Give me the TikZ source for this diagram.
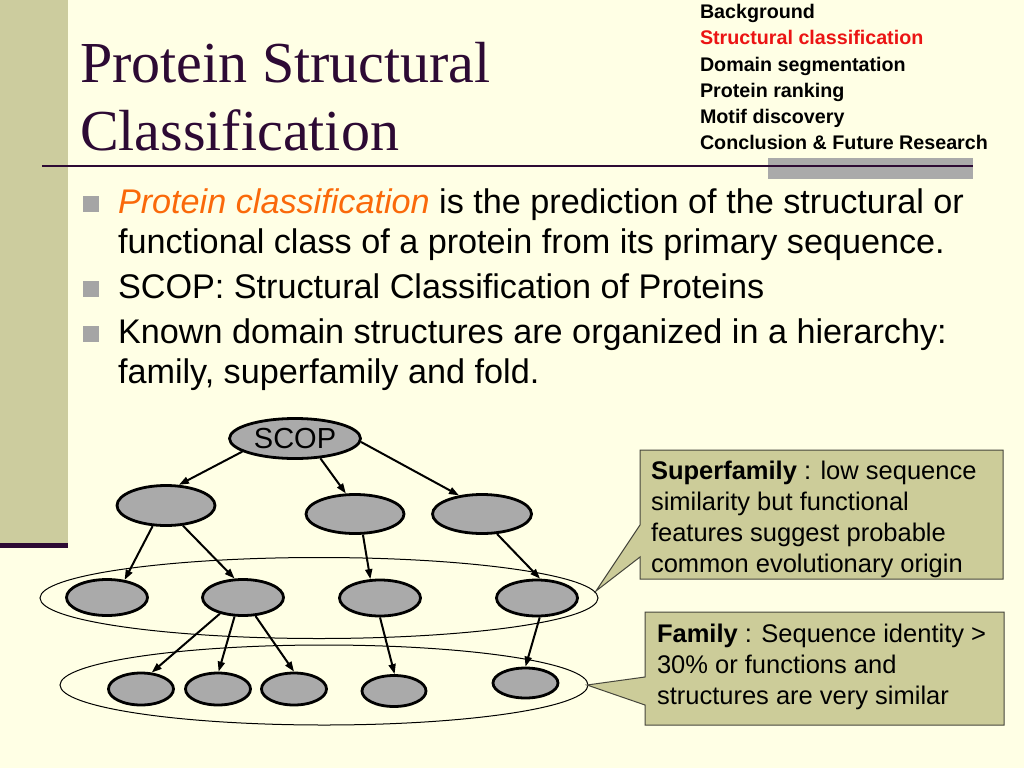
\documentclass[tikz,border=0pt]{standalone}
\usepackage{fontspec}
\setmainfont{Liberation Sans}
\newfontfamily\titlefont{Liberation Serif}
\usetikzlibrary{arrows.meta,shapes.geometric}
\definecolor{bgc}{RGB}{255,255,229}
\definecolor{barc}{RGB}{204,204,158}
\definecolor{calc}{RGB}{204,204,153}
\definecolor{calb}{RGB}{70,70,60}
\definecolor{titc}{RGB}{45,10,52}
\definecolor{orc}{RGB}{250,105,10}
\definecolor{redc}{RGB}{235,20,20}
\definecolor{bulc}{RGB}{165,165,165}
\definecolor{ndc}{RGB}{170,170,170}
\tikzset{
  txt/.style={anchor=base west,inner sep=0pt,outer sep=0pt},
  titletxt/.style={txt,text=titc,font=\titlefont\fontsize{58}{68}\selectfont},
  menutxt/.style={txt,font=\bfseries\fontsize{19.7}{24}\selectfont},
  bodytxt/.style={txt,font=\fontsize{34.2}{40}\selectfont},
  caltxt/.style={txt,font=\fontsize{25.5}{31}\selectfont},
  bul/.style={fill=bulc,inner sep=0pt,minimum size=16pt},
  nd/.style={ellipse,draw=black,line width=2.8pt,fill=ndc,inner sep=0pt},
  grp/.style={ellipse,draw=black,line width=1pt,inner sep=0pt},
  arr/.style={line width=2pt,-{Triangle[length=10pt,width=7pt]}},
  callout/.style={fill=calc,draw=calb,line width=1pt},
}
\begin{document}
\begin{tikzpicture}[x=1pt,y=-1pt]
\useasboundingbox (0,0) rectangle (1024,768);
\fill[bgc] (0,0) rectangle (1024,768);
% left bar
\fill[barc] (0,0) rectangle (68,543);
\fill[titc] (0,543) rectangle (68,548);
% title
\node[titletxt] (t1) at (80,82) {Protein Structural};
\node[titletxt] (t2) at (80,150) {Classification};
\fill[ndc] (768,158) rectangle (973,179);
\draw[titc,line width=2.3pt] (42,166) -- (973,166);
% menu
\node[menutxt] (m1) at (700,19) {Background};
\node[menutxt,text=redc] (m2) at (700,45) {Structural classification};
\node[menutxt] (m3) at (700,71) {Domain segmentation};
\node[menutxt] (m4) at (700,97) {Protein ranking};
\node[menutxt] (m5) at (700,123) {Motif discovery};
\node[menutxt] (m6) at (700,149) {Conclusion \& Future Research};
% bullets
\node[bul] (b1) at (90.5,203.5) {};
\node[bul] (b2) at (90.5,288.5) {};
\node[bul] (b3) at (90.5,333.5) {};
\node[bodytxt] (l1) at (118,213) {\textcolor{orc}{\itshape Protein classification} is the prediction of the structural or};
\node[bodytxt] (l2) at (118,253) {functional class of a protein from its primary sequence.};
\node[bodytxt] (l3) at (118,298) {SCOP: Structural Classification of Proteins};
\node[bodytxt] (l4) at (118,343) {Known domain structures are organized in a hierarchy:};
\node[bodytxt] (l5) at (118,383) {family, superfamily and fold.};
% group ellipses
\node[grp,minimum width=558pt,minimum height=81pt] (g1) at (319,598) {};
\node[grp,minimum width=528pt,minimum height=80pt] (g2) at (324,685) {};
% tree nodes
\node[nd,minimum width=131pt,minimum height=40pt,font=\fontsize{29}{32}\selectfont] (scop) at (295,438.5) {SCOP};
\node[nd,minimum width=98pt,minimum height=40pt] (a) at (166,505.5) {};
\node[nd,minimum width=98pt,minimum height=39pt] (b) at (355,514) {};
\node[nd,minimum width=99pt,minimum height=39pt] (c) at (482,514) {};
\node[nd,minimum width=81pt,minimum height=36pt] (d) at (107,597.5) {};
\node[nd,minimum width=81pt,minimum height=36pt] (e) at (243,597.5) {};
\node[nd,minimum width=81pt,minimum height=36pt] (f) at (380,598) {};
\node[nd,minimum width=81pt,minimum height=36pt] (g) at (537,598) {};
\node[nd,minimum width=65pt,minimum height=32pt] (h) at (141,689) {};
\node[nd,minimum width=65pt,minimum height=32pt] (i) at (218,689) {};
\node[nd,minimum width=65pt,minimum height=32pt] (j) at (294,689) {};
\node[nd,minimum width=64pt,minimum height=31pt] (k) at (394,691) {};
\node[nd,minimum width=65pt,minimum height=30pt] (l) at (525.5,683) {};
% arrows
\draw[arr] (scop.194) -- (a.58);
\draw[arr] (scop.322) -- (b.114);
\draw[arr] (scop.357) -- (c.141);
\draw[arr] (a.237) -- (d.45);
\draw[arr] (a.310) -- (e.114);
\draw[arr] (b.291) -- (f.117);
\draw[arr] (c.307) -- (g.81);
\draw[arr] (e.215) -- (h.57);
\draw[arr] (e.246) -- (i.88);
\draw[arr] (e.304) -- (j.90);
\draw[arr] (f.270) -- (k.88);
\draw[arr] (g.278) -- (l.90);
% callouts
\coordinate (sftip) at (596,591);
\coordinate (ftip) at (587,685);
\draw[callout] (640,450) -- (1003,450) -- (1003,579) -- (640,579) -- (640,557) -- (sftip) -- (640,525) -- cycle;
\draw[callout] (645,612) -- (1004,612) -- (1004,725) -- (645,725) -- (645,705) -- (ftip) -- (645,677) -- cycle;
\node[caltxt] (s1) at (651,479) {\textbf{Superfamily} : low sequence};
\node[caltxt] (s2) at (651,510) {similarity but functional};
\node[caltxt] (s3) at (651,541) {features suggest probable};
\node[caltxt] (s4) at (651,572) {common evolutionary origin};
\node[caltxt] (f1) at (657,642) {\textbf{Family} : Sequence identity >};
\node[caltxt] (f2) at (657,673) {30\% or functions and};
\node[caltxt] (f3) at (657,704) {structures are very similar};
\end{tikzpicture}
\end{document}
